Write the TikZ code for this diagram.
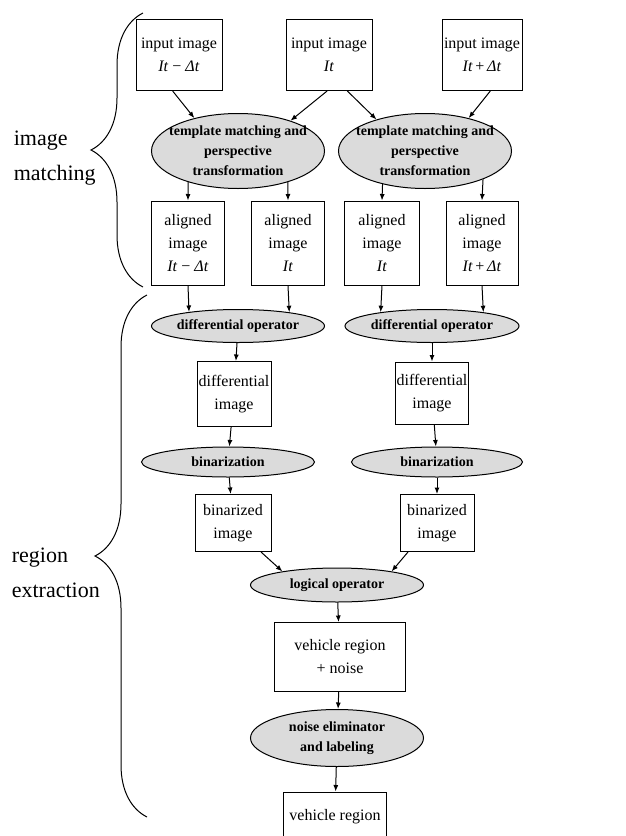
\documentclass[tikz,border=0pt]{standalone}
\usepackage{fontspec}
\setmainfont{Liberation Serif}
\usetikzlibrary{arrows.meta,shapes.geometric,decorations.pathreplacing}

\begin{document}
\begin{tikzpicture}[x=1pt,y=-1pt,line width=1pt,>={Latex[length=6.5pt,width=5pt]},
  box/.style={draw=black,rectangle,inner sep=1pt,align=center,font=\fontsize{16}{23}\selectfont},
  oval/.style={draw=black,ellipse,fill=gray!28,inner xsep=-8pt,inner ysep=-4pt,align=center,font=\fontsize{14}{20}\selectfont\bfseries},
  side/.style={anchor=west,align=left,font=\fontsize{22}{35}\selectfont}]
\path[use as bounding box,clip] (0,0) rectangle (626,836);
% Row input images
\draw (179,55) node(n11)[box,minimum width=86,minimum height=71] {input image\\\textit{It} − \textit{Δt}};
\draw (329,55) node(n12)[box,minimum width=86,minimum height=71] {input image\\\textit{It}};
\draw (482,55) node(n13)[box,minimum width=80,minimum height=71] {input image\\\textit{It}\,+\,\textit{Δt}};
% Row matching
\draw (238,151) node(n21)[oval,minimum width=173,minimum height=75] {template matching and\\perspective\\transformation};
\draw (425,151) node(n22)[oval,minimum width=173,minimum height=75] {template matching and\\perspective\\transformation};
% Row aligned images
\draw (188,243) node(n31)[box,minimum width=73,minimum height=84] {aligned\\image\\\textit{It} − \textit{Δt}};
\draw (288,243) node(n32)[box,minimum width=73,minimum height=84] {aligned\\image\\\textit{It}};
\draw (382,243) node(n33)[box,minimum width=75,minimum height=84] {aligned\\image\\\textit{It}};
\draw (482,243) node(n34)[box,minimum width=72,minimum height=84] {aligned\\image\\\textit{It}\,+\,\textit{Δt}};
% Row differential
\draw (238,326) node(n41)[oval,minimum width=173,minimum height=33] {differential operator};
\draw (432,326) node(n42)[oval,minimum width=174,minimum height=33] {differential operator};
\draw (234,394) node(n51)[box,minimum width=74,minimum height=65] {differential\\image};
\draw (432,393) node(n52)[box,minimum width=73,minimum height=62] {differential\\image};
% Row binarization
\draw (228,462) node(n61)[oval,minimum width=173,minimum height=30] {binarization};
\draw (437,462) node(n62)[oval,minimum width=171,minimum height=30] {binarization};
\draw (233,523) node(n71)[box,minimum width=76,minimum height=57] {binarized\\image};
\draw (437,523) node(n72)[box,minimum width=74,minimum height=57] {binarized\\image};
% Rows merged
\draw (337,585) node(n81)[oval,minimum width=173,minimum height=34] {logical operator};
\draw (340,657) node(n91)[box,minimum width=131,minimum height=69] {vehicle region\\+ noise};
\draw (337,738) node(n101)[oval,minimum width=173,minimum height=57] {noise eliminator\\and labeling};
\draw (335,817) node(n111)[box,minimum width=103,minimum height=50] {vehicle region};
% Arrows input to matching
\draw[->] (n11.260) -- (n21.143);
\draw[->] (n12.267) -- (n21.30);
\draw[->] (n12.297) -- (n22.147);
\draw[->] (n13.283) -- (n22.37);
% Arrows matching to aligned
\draw[->] (n21.212) -- (n31.north);
\draw[->] (n21.328) -- (n32.north);
\draw[->] (n22.218) -- (n33.north);
\draw[->] (n22.334) -- (n34.north);
% Arrows aligned to differential
\draw[->] (n31.south) -- (n41.164);
\draw[->] (n32.south) -- (n41.15);
\draw[->] (n33.south) -- (n42.165);
\draw[->] (n34.south) -- (n42.15);
% Arrows down the columns
\draw[->] (n41) -- (n51);
\draw[->] (n42) -- (n52);
\draw[->] (n51) -- (n61);
\draw[->] (n52) -- (n62);
\draw[->] (n61) -- (n71);
\draw[->] (n62) -- (n72);
\draw[->] (n71.314) -- (n81.166);
\draw[->] (n72.225) -- (n81.14);
\draw[->] (n81) -- (n91);
\draw[->] (n91) -- (n101);
\draw[->] (n101) -- (n111);
% Braces
\draw[decorate,decoration={brace,amplitude=52pt}] (143,287) -- (143,13);
\draw[decorate,decoration={brace,amplitude=52pt}] (147,817) -- (147,295);
\node[side] (m1) at (10,158) {image\\matching};
\node[side] (m2) at (8,573) {region\\extraction};
\end{tikzpicture}
\end{document}
